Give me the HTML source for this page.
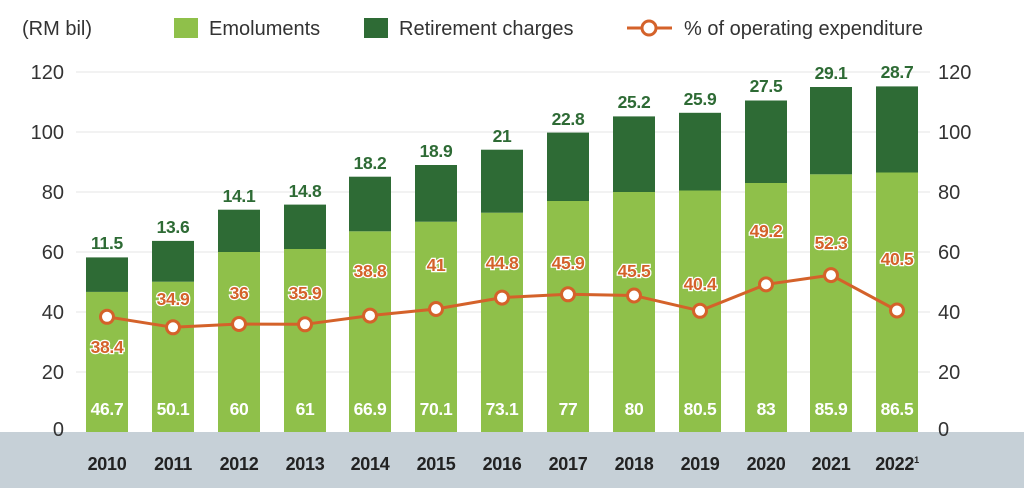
<!DOCTYPE html>
<html><head><meta charset="utf-8"><style>
body{margin:0;background:#fff;}
svg{display:block;font-family:"Liberation Sans",Arial,sans-serif;}
.ax{font-size:20px;fill:#333;}
.yr{font-size:18px;font-weight:bold;fill:#222;text-anchor:middle;letter-spacing:-0.3px;}
.dk{font-size:17.5px;font-weight:bold;fill:#2e6b35;text-anchor:middle;letter-spacing:-0.3px;}
.lt{font-size:17.5px;font-weight:bold;fill:#fff;text-anchor:middle;letter-spacing:-0.3px;}
.pc{font-size:17.5px;font-weight:bold;fill:#d4622a;text-anchor:middle;stroke:#fff;stroke-width:2.5px;paint-order:stroke;letter-spacing:-0.3px;}
.a{fill:#8fc04a}.b{fill:#2e6b35}
.c{fill:#fff;stroke:#d4622a;stroke-width:3}
</style></head><body>
<svg width="1024" height="492" viewBox="0 0 1024 492">
<rect x="0" y="432" width="1024" height="56" fill="#c6d0d7"/>
<g stroke="#e6e6e6" stroke-width="1">
<line x1="76" x2="930" y1="72" y2="72"/><line x1="76" x2="930" y1="132" y2="132"/>
<line x1="76" x2="930" y1="192" y2="192"/><line x1="76" x2="930" y1="252" y2="252"/>
<line x1="76" x2="930" y1="312" y2="312"/><line x1="76" x2="930" y1="372" y2="372"/>
</g>
<g class="ax" text-anchor="end">
<text x="64" y="79">120</text><text x="64" y="139">100</text><text x="64" y="199">80</text>
<text x="64" y="259">60</text><text x="64" y="319">40</text><text x="64" y="379">20</text><text x="64" y="436">0</text>
</g>
<g class="ax" text-anchor="start">
<text x="938" y="79">120</text><text x="938" y="139">100</text><text x="938" y="199">80</text>
<text x="938" y="259">60</text><text x="938" y="319">40</text><text x="938" y="379">20</text><text x="938" y="436">0</text>
</g>
<text class="ax" x="22" y="35">(RM bil)</text>
<rect x="174" y="18" width="24" height="20" fill="#8fc04a"/>
<text class="ax" x="209" y="35">Emoluments</text>
<rect x="364" y="18" width="24" height="20" fill="#2e6b35"/>
<text class="ax" x="399" y="35">Retirement charges</text>
<line x1="627" x2="672" y1="28" y2="28" stroke="#d4622a" stroke-width="3"/>
<circle cx="649" cy="28" r="7" fill="#fff" stroke="#d4622a" stroke-width="3"/>
<text class="ax" x="684" y="35">% of operating expenditure</text>

<rect class="a" x="86" y="291.9" width="42" height="140.1"/><rect class="b" x="86" y="257.4" width="42" height="34.5"/>
<rect class="a" x="152" y="281.7" width="42" height="150.3"/><rect class="b" x="152" y="240.9" width="42" height="40.8"/>
<rect class="a" x="218" y="252" width="42" height="180"/><rect class="b" x="218" y="209.7" width="42" height="42.3"/>
<rect class="a" x="284" y="249" width="42" height="183"/><rect class="b" x="284" y="204.6" width="42" height="44.4"/>
<rect class="a" x="349" y="231.3" width="42" height="200.7"/><rect class="b" x="349" y="176.7" width="42" height="54.6"/>
<rect class="a" x="415" y="221.7" width="42" height="210.3"/><rect class="b" x="415" y="165" width="42" height="56.7"/>
<rect class="a" x="481" y="212.7" width="42" height="219.3"/><rect class="b" x="481" y="149.7" width="42" height="63"/>
<rect class="a" x="547" y="201" width="42" height="231"/><rect class="b" x="547" y="132.6" width="42" height="68.4"/>
<rect class="a" x="613" y="192" width="42" height="240"/><rect class="b" x="613" y="116.4" width="42" height="75.6"/>
<rect class="a" x="679" y="190.5" width="42" height="241.5"/><rect class="b" x="679" y="112.8" width="42" height="77.7"/>
<rect class="a" x="745" y="183" width="42" height="249"/><rect class="b" x="745" y="100.5" width="42" height="82.5"/>
<rect class="a" x="810" y="174.3" width="42" height="257.7"/><rect class="b" x="810" y="87" width="42" height="87.3"/>
<rect class="a" x="876" y="172.5" width="42" height="259.5"/><rect class="b" x="876" y="86.4" width="42" height="86.1"/>

<text class="dk" x="107" y="249">11.5</text>
<text class="dk" x="173" y="233">13.6</text>
<text class="dk" x="239" y="202">14.1</text>
<text class="dk" x="305" y="197">14.8</text>
<text class="dk" x="370" y="169">18.2</text>
<text class="dk" x="436" y="157">18.9</text>
<text class="dk" x="502" y="142">21</text>
<text class="dk" x="568" y="125">22.8</text>
<text class="dk" x="634" y="108">25.2</text>
<text class="dk" x="700" y="105">25.9</text>
<text class="dk" x="766" y="92">27.5</text>
<text class="dk" x="831" y="79">29.1</text>
<text class="dk" x="897" y="78">28.7</text>

<text class="lt" x="107" y="415">46.7</text><text class="lt" x="173" y="415">50.1</text>
<text class="lt" x="239" y="415">60</text><text class="lt" x="305" y="415">61</text>
<text class="lt" x="370" y="415">66.9</text><text class="lt" x="436" y="415">70.1</text>
<text class="lt" x="502" y="415">73.1</text><text class="lt" x="568" y="415">77</text>
<text class="lt" x="634" y="415">80</text><text class="lt" x="700" y="415">80.5</text>
<text class="lt" x="766" y="415">83</text><text class="lt" x="831" y="415">85.9</text>
<text class="lt" x="897" y="415">86.5</text>

<text class="yr" x="107" y="470">2010</text><text class="yr" x="173" y="470">2011</text>
<text class="yr" x="239" y="470">2012</text><text class="yr" x="305" y="470">2013</text>
<text class="yr" x="370" y="470">2014</text><text class="yr" x="436" y="470">2015</text>
<text class="yr" x="502" y="470">2016</text><text class="yr" x="568" y="470">2017</text>
<text class="yr" x="634" y="470">2018</text><text class="yr" x="700" y="470">2019</text>
<text class="yr" x="766" y="470">2020</text><text class="yr" x="831" y="470">2021</text>
<text class="yr" x="897" y="470">2022<tspan font-size="9" dy="-7">1</tspan></text>

<polyline fill="none" stroke="#d4622a" stroke-width="3" points="107,316.8 173,327.3 239,324 305,324.3 370,315.6 436,309 502,297.6 568,294.3 634,295.5 700,310.8 766,284.4 831,275.1 897,310.5"/>
<circle class="c" cx="107" cy="316.8" r="6.5"/><circle class="c" cx="173" cy="327.3" r="6.5"/>
<circle class="c" cx="239" cy="324" r="6.5"/><circle class="c" cx="305" cy="324.3" r="6.5"/>
<circle class="c" cx="370" cy="315.6" r="6.5"/><circle class="c" cx="436" cy="309" r="6.5"/>
<circle class="c" cx="502" cy="297.6" r="6.5"/><circle class="c" cx="568" cy="294.3" r="6.5"/>
<circle class="c" cx="634" cy="295.5" r="6.5"/><circle class="c" cx="700" cy="310.8" r="6.5"/>
<circle class="c" cx="766" cy="284.4" r="6.5"/><circle class="c" cx="831" cy="275.1" r="6.5"/>
<circle class="c" cx="897" cy="310.5" r="6.5"/>

<text class="pc" x="107" y="353">38.4</text><text class="pc" x="173" y="305">34.9</text>
<text class="pc" x="239" y="299">36</text><text class="pc" x="305" y="299">35.9</text>
<text class="pc" x="370" y="277">38.8</text><text class="pc" x="436" y="271">41</text>
<text class="pc" x="502" y="269">44.8</text><text class="pc" x="568" y="269">45.9</text>
<text class="pc" x="634" y="277">45.5</text><text class="pc" x="700" y="290">40.4</text>
<text class="pc" x="766" y="237">49.2</text><text class="pc" x="831" y="249">52.3</text>
<text class="pc" x="897" y="265">40.5</text>
</svg>
</body></html>
